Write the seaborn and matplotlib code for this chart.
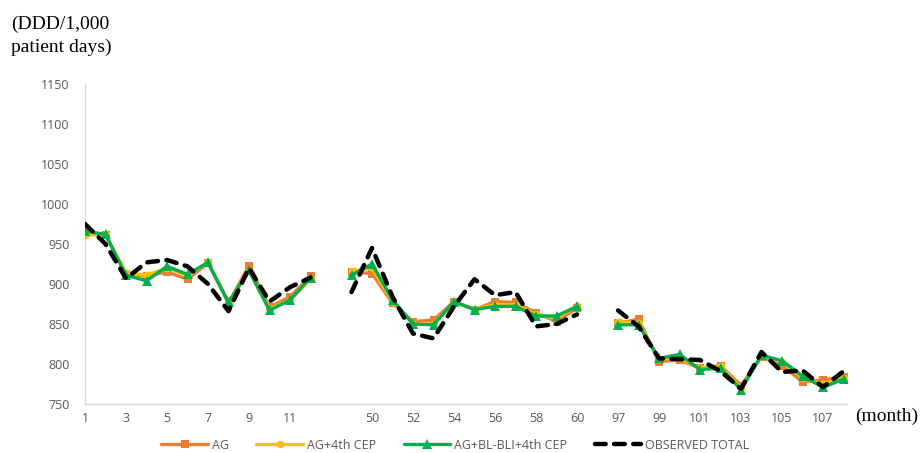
import numpy as np
import pandas as pd
import matplotlib
matplotlib.use("Agg")
import matplotlib.pyplot as plt
import seaborn as sns
from matplotlib.lines import Line2D

# Month labels for the three observation windows
months_a = [1, 2, 3, 4, 5, 6, 7, 8, 9, 10, 11, 12]
months_b = [49, 50, 51, 52, 53, 54, 55, 56, 57, 58, 59, 60]
months_c = [97, 98, 99, 100, 101, 102, 103, 104, 105, 106, 107, 108]

# DDD per 1,000 patient days, one list per window
ag_a = [965, 961, 912, 910, 915, 906, 926, 876, 923, 871, 884, 910]
ag_b = [915, 913, 876, 853, 855, 878, 868, 878, 877, 864, 853, 870]
ag_c = [851, 856, 803, 805, 795, 798, 773, 809, 798, 778, 780, 784]

cep_a = [961, 962, 914, 911, 920, 911, 927, 878, 916, 869, 880, 906]
cep_b = [916, 920, 878, 850, 850, 877, 869, 874, 874, 862, 857, 873]
cep_c = [853, 851, 806, 808, 795, 797, 770, 810, 803, 783, 775, 783]

bli_a = [966, 962, 911, 904, 922, 912, 927, 877, 917, 867, 880, 908]
bli_b = [911, 925, 880, 850, 849, 878, 868, 872, 872, 860, 860, 872]
bli_c = [849, 849, 807, 812, 793, 795, 768, 811, 804, 785, 771, 781]

obs_a = [975, 950, 907, 927, 930, 922, 900, 866, 920, 878, 896, 908]
obs_b = [890, 945, 884, 838, 832, 872, 906, 886, 890, 847, 850, 862]
obs_c = [867, 847, 807, 806, 805, 791, 769, 815, 790, 792, 771, 791]

series_names = ["AG", "AG+4th CEP", "AG+BL-BLI+4th CEP", "OBSERVED TOTAL"]
series_values = {
    "AG": (ag_a, ag_b, ag_c),
    "AG+4th CEP": (cep_a, cep_b, cep_c),
    "AG+BL-BLI+4th CEP": (bli_a, bli_b, bli_c),
    "OBSERVED TOTAL": (obs_a, obs_b, obs_c),
}

# Category axis: windows separated by one empty slot
windows = [months_a, months_b, months_c]
categories = []
for w_i, w in enumerate(windows):
    if w_i > 0:
        categories.append("")
    categories.extend(str(m) for m in w)
positions = {}
pos = 0
for w_i, w in enumerate(windows):
    if w_i > 0:
        pos += 1
    positions[w_i] = list(range(pos, pos + len(w)))
    pos += len(w)

rows = []
for name in series_names:
    for w_i, vals in enumerate(series_values[name]):
        for p, v in zip(positions[w_i], vals):
            rows.append({"series": name, "window": w_i, "pos": p, "value": v})
df = pd.DataFrame(rows)

sns.set_theme(style="white")
plt.rcParams["font.family"] = ["Open Sans", "DejaVu Sans"]

fig = plt.figure(figsize=(9.21, 4.53), dpi=100)
ax = fig.add_axes([85 / 921, 49 / 453, (847 - 85) / 921, (404 - 84) / 453])

styles = {
    "AG": dict(color="#ED7D31", marker="s", markersize=6, linewidth=2.4),
    "AG+4th CEP": dict(color="#FFC000", marker="o", markersize=5.5, linewidth=2.4),
    "AG+BL-BLI+4th CEP": dict(color="#00B050", marker="^", markersize=6.5, linewidth=2.4),
}

for name in series_names:
    sub = df[df["series"] == name]
    for w_i in range(3):
        part = sub[sub["window"] == w_i]
        if name == "OBSERVED TOTAL":
            sns.lineplot(data=part, x="pos", y="value", ax=ax, color="black",
                         linewidth=3.2, dashes=False, zorder=5,
                         estimator=None, sort=False)
            ln = ax.lines[-1]
            ln.set_dashes((2.4, 1.9))
            ln.set_dash_capstyle("round")
        else:
            st = styles[name]
            sns.lineplot(data=part, x="pos", y="value", ax=ax, color=st["color"],
                         linewidth=st["linewidth"], marker=st["marker"],
                         markersize=st["markersize"], markeredgewidth=0,
                         estimator=None, sort=False, zorder=3)

ax.set_xlim(0, 37.17)
ax.set_ylim(750, 1150)
ax.set_yticks(np.arange(750, 1151, 50))
ax.set_xticks(range(0, len(categories), 2))
ax.set_xticklabels([categories[i] for i in range(0, len(categories), 2)])
ax.set_xlabel("")
ax.set_ylabel("")
ax.tick_params(axis="both", length=0, labelsize=9, labelcolor="#595959")
ax.tick_params(axis="y", pad=11)
ax.tick_params(axis="x", pad=6)

for side in ["top", "right"]:
    ax.spines[side].set_visible(False)
for side in ["left", "bottom"]:
    ax.spines[side].set_color("#D9D9D9")
    ax.spines[side].set_linewidth(1.0)
ax.set_facecolor("white")

serif = ["Liberation Serif", "DejaVu Serif"]
fig.text(11 / 921, 1 - 16 / 453, "(DDD/1,000\npatient days)", family=serif,
         fontsize=14, va="top", ha="left", linespacing=1.42, color="black")
fig.text(855 / 921, 1 - 416 / 453, "(month)", family=serif, fontsize=14,
         va="center", ha="left", color="black")

handles = []
for name in series_names[:3]:
    st = styles[name]
    handles.append(Line2D([], [], color=st["color"], linewidth=st["linewidth"],
                          marker=st["marker"], markersize=st["markersize"],
                          markeredgewidth=0))
obs_h = Line2D([], [], color="black", linewidth=3.2, dash_capstyle="round")
obs_h.set_dashes((2.4, 1.9))
handles.append(obs_h)

leg = fig.legend(handles, series_names, loc="center", bbox_to_anchor=(0.4946, 0.017),
                 ncol=4, frameon=False, fontsize=9, handlelength=3.7,
                 columnspacing=2.2, handletextpad=0.35, numpoints=1,
                 borderaxespad=0, borderpad=0)
for t in leg.get_texts():
    t.set_color("#595959")

fig.savefig("out.png", dpi=100, facecolor="white")
